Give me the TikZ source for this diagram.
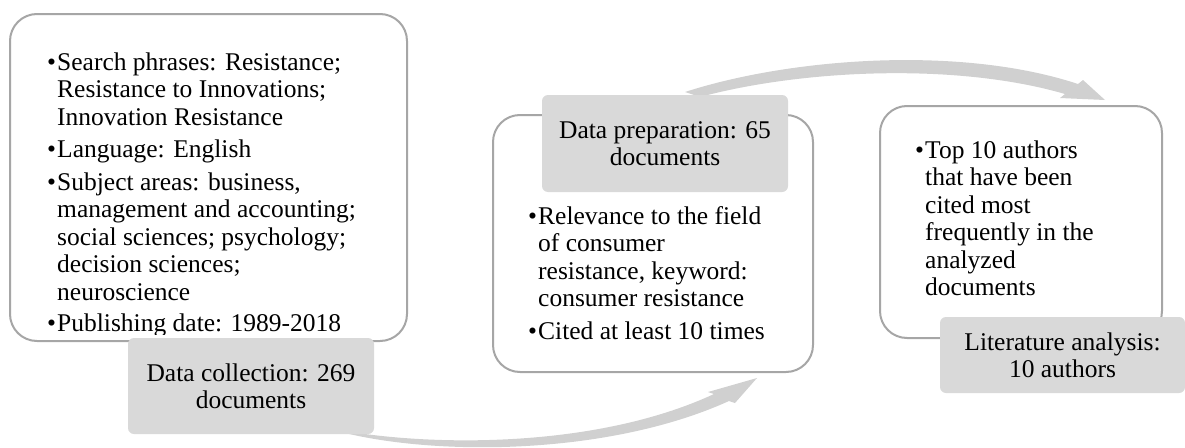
\documentclass[tikz,border=0pt]{standalone}
\usepackage{fontspec}
\setmainfont{Liberation Serif}
\definecolor{boxline}{HTML}{A6A6A6}
\definecolor{labelfill}{HTML}{D9D9D9}
\definecolor{arrowfill}{HTML}{D0D0D0}
\begin{document}
\begin{tikzpicture}[x=1pt,y=-1pt,
  whitebox/.style={draw=boxline, line width=2pt, fill=white, rounded corners=27pt, inner sep=0pt},
  graylabel/.style={fill=labelfill, rounded corners=6pt, inner sep=0pt, align=center,
    font=\fontsize{25.5}{27}\selectfont},
  listtext/.style={anchor=base west, inner sep=0pt, font=\fontsize{25.5}{27.5}\selectfont},
  arrowband/.style={fill=arrowfill, draw=none}]
\useasboundingbox (0,0) rectangle (1185,447);

% arrows (behind everything)
\path[arrowband] (685,92) .. controls (790,58) and (960,45) .. (1078,84)
  -- (1083,80) -- (1105,100) -- (1060,98) -- (1065,94)
  .. controls (955,62) and (800,70) .. (700,97) -- cycle;
\path[arrowband] (345,431) .. controls (440,447) and (600,447) .. (714,394)
  -- (708,392) -- (757,378) -- (735,403) -- (729,401)
  .. controls (610,455) and (440,456) .. (345,433) -- cycle;

% white boxes
\node[whitebox, minimum width=397pt, minimum height=327pt] (box1) at (208.5,177.5) {};
\node[whitebox, minimum width=320pt, minimum height=257pt] (box2) at (653,243.5) {};
\node[whitebox, minimum width=282pt, minimum height=232pt] (box3) at (1021,222) {};

% box texts
\begin{scope}
\clip (10,14) rectangle (407,334);
\node[listtext] (list1) at (47,70) {\begin{tabular}[t]{@{}l@{}l@{}}
\makebox[10pt][l]{•} & Search phrases: Resistance;\\
 & Resistance to Innovations;\\
 & Innovation Resistance\\[5pt]
\makebox[10pt][l]{•} & Language: English\\[5pt]
\makebox[10pt][l]{•} & Subject areas: business,\\
 & management and accounting;\\
 & social sciences; psychology;\\
 & decision sciences;\\
 & neuroscience\\[4pt]
\makebox[10pt][l]{•} & Publishing date: 1989-2018
\end{tabular}};
\end{scope}

\node[listtext] (list2) at (528,224) {\begin{tabular}[t]{@{}l@{}l@{}}
\makebox[10pt][l]{•} & Relevance to the field\\
 & of consumer\\
 & resistance, keyword:\\
 & consumer resistance\\[5.5pt]
\makebox[10pt][l]{•} & Cited at least 10 times
\end{tabular}};

\node[listtext] (list3) at (915,158) {\begin{tabular}[t]{@{}l@{}l@{}}
\makebox[10pt][l]{•} & Top 10 authors\\
 & that have been\\
 & cited most\\
 & frequently in the\\
 & analyzed\\
 & documents
\end{tabular}};

% gray labels
\node[graylabel, minimum width=246pt, minimum height=96pt] (lab1) at (251,386) {Data collection: 269\\documents};
\node[graylabel, minimum width=246pt, minimum height=97pt] (lab2) at (665,143.5) {Data preparation: 65\\documents};
\node[graylabel, minimum width=245pt, minimum height=76pt] (lab3) at (1062.5,355) {Literature analysis:\\10 authors};
\end{tikzpicture}
\end{document}
